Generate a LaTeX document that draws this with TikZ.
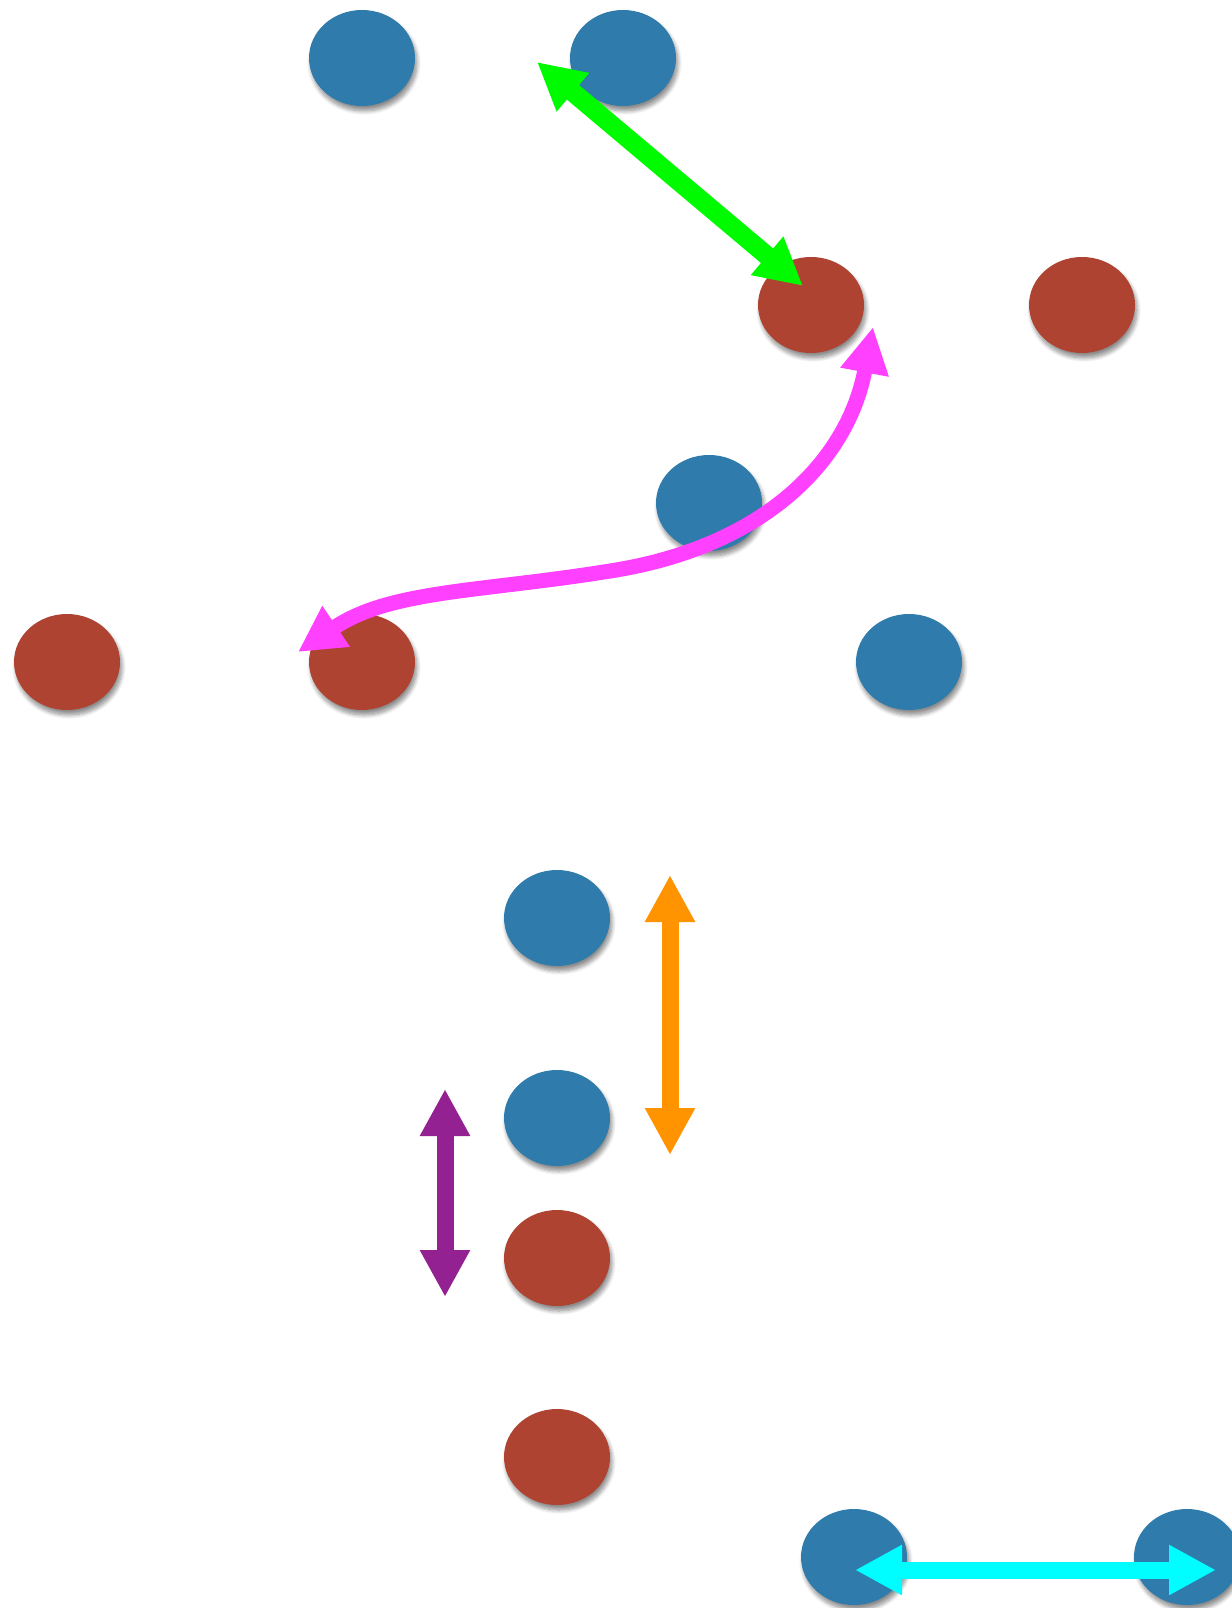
\documentclass[tikz,border=0pt]{standalone}
\usetikzlibrary{shapes.geometric, arrows.meta, shadows.blur, calc}

\definecolor{dotblue}{RGB}{46,123,172}
\definecolor{dotred}{RGB}{174,67,50}
\definecolor{arrgreen}{RGB}{0,250,0}
\definecolor{arrpink}{RGB}{255,64,255}
\definecolor{arrorange}{RGB}{255,147,0}
\definecolor{arrpurple}{RGB}{148,33,146}
\definecolor{arrcyan}{RGB}{0,253,255}

\tikzset{
    dot/.style = {ellipse, minimum width=106pt, minimum height=96pt, inner sep=0pt,
        blur shadow={shadow xshift=2pt, shadow yshift=-5pt, shadow blur radius=4pt,
            shadow blur steps=8, shadow opacity=45}},
    bdot/.style = {dot, fill=dotblue},
    rdot/.style = {dot, fill=dotred},
    dbl/.style = {{Triangle[length=47pt, width=47pt]}-{Triangle[length=47pt, width=47pt]}, line width=17pt}
}

\begin{document}
\begin{tikzpicture}[x=1pt, y=-1pt]
\useasboundingbox (0,0) rectangle (1231,1608);

\node (b1) [bdot] at (362,58) {};
\node (b2) [bdot] at (623,58) {};
\node (r1) [rdot] at (811,305) {};
\node (r2) [rdot] at (1082,305) {};
\node (b3) [bdot] at (709,503) {};
\node (r3) [rdot] at (67,662) {};
\node (r4) [rdot] at (362,662) {};
\node (b4) [bdot] at (909,662) {};
\node (b5) [bdot] at (557,918) {};
\node (b6) [bdot] at (557,1118) {};
\node (r5) [rdot] at (557,1258) {};
\node (r6) [rdot] at (557,1457) {};
\node (b7) [bdot] at (854,1557) {};
\node (b8) [bdot] at (1187,1557) {};

\coordinate (g1) at ($ (b2) + (-86,4) $);
\coordinate (g2) at ($ (r1) + (-8,-19) $);
\draw [dbl, arrgreen, line width=19pt] (g1) -- (g2);

\coordinate (p1) at ($ (r1) + (62,22) $);
\coordinate (p2) at ($ (r4) + (-64,-10) $);
\draw [arrpink, line width=15pt, {Triangle[length=46pt, width=46pt]}-{Triangle[length=46pt, width=46pt]}]
    (p1) .. controls (848,460) and (765,547) .. (610,571)
    .. controls (480,592) and (390,590) .. (p2);

\coordinate (o1) at ($ (b5) + (113,-43) $);
\coordinate (o2) at ($ (b6) + (113,37) $);
\draw [dbl, arrorange] (o1) -- (o2);

\coordinate (v1) at ($ (b6) + (-112,-29) $);
\coordinate (v2) at ($ (r5) + (-112,39) $);
\draw [dbl, arrpurple] (v1) -- (v2);

\coordinate (c1) at ($ (b7) + (1,13) $);
\coordinate (c2) at ($ (b8) + (29,13) $);
\draw [dbl, arrcyan] (c1) -- (c2);

\end{tikzpicture}
\end{document}
